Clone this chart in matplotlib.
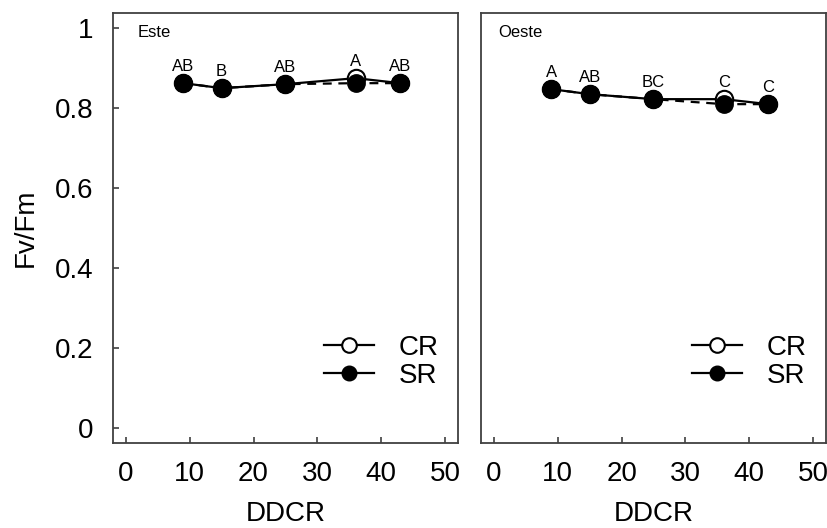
import matplotlib
matplotlib.use("Agg")
import matplotlib.pyplot as plt
from matplotlib.lines import Line2D

plt.rcParams['font.family'] = ['Liberation Sans', 'DejaVu Sans']

ddcr = [9, 15, 25, 36, 43]
este_cr = [0.8625, 0.85, 0.86, 0.875, 0.8625]
este_sr = [0.8625, 0.85, 0.86, 0.8625, 0.8625]
este_letters = ["AB", "B", "AB", "A", "AB"]
oeste_cr = [0.8475, 0.835, 0.8225, 0.8225, 0.81]
oeste_sr = [0.8475, 0.835, 0.8225, 0.81, 0.81]
oeste_letters = ["A", "AB", "BC", "C", "C"]
panels = ["Este", "Oeste"]
xticks = [0, 10, 20, 30, 40, 50]
yticks = [0, 0.2, 0.4, 0.6, 0.8, 1]
ytick_labels = ["0", "0.2", "0.4", "0.6", "0.8", "1"]

fig = plt.figure(figsize=(8.28, 5.28), dpi=100)
ax1 = fig.add_axes([0.1365, 0.161, 0.4165, 0.814])
ax2 = fig.add_axes([0.581, 0.161, 0.4165, 0.814])

data = [(este_cr, este_sr, este_letters), (oeste_cr, oeste_sr, oeste_letters)]
name_pos = [(0.072, 0.944), (0.049, 0.944)]
spc = '#404040'
FS = 20
for i, (ax, (cr, sr, letters), name) in enumerate(zip([ax1, ax2], data, panels)):
    ax.plot(ddcr, sr, color='black', lw=1.6, ls=(0, (4, 3)), marker='o', ms=12.5,
            mfc='black', mec='black', zorder=2)
    ax.plot(ddcr, cr, color='black', lw=1.6, ls='-', marker='o', ms=12.5,
            mfc='white', mec='black', mew=1.5, zorder=1)
    for x, c, s, lab in zip(ddcr, cr, sr, letters):
        top = max(c, s)
        ax.annotate(lab, (x, top), xytext=(0, 9), textcoords='offset points',
                    ha='center', va='baseline', fontsize=12)
    ax.set_xlim(-2, 52)
    ax.set_ylim(-0.0375, 1.0375)
    ax.set_xticks(xticks)
    ax.set_yticks(yticks)
    ax.tick_params(direction='in', length=4, width=1.2, color=spc, labelsize=FS)
    ax.tick_params(axis='x', pad=13)
    ax.tick_params(axis='y', pad=14)
    ax.set_xticklabels([str(t) for t in xticks])
    for sp in ax.spines.values():
        sp.set_color(spc)
        sp.set_linewidth(1.3)
    ax.set_xlabel("DDCR", fontsize=FS, labelpad=10)
    ax.text(name_pos[i][0], name_pos[i][1], name, transform=ax.transAxes,
            fontsize=12, va='baseline', ha='left')
    handles = [Line2D([], [], color='black', lw=1.6, marker='o', ms=10.5, mfc='white', mec='black', mew=1.5),
               Line2D([], [], color='black', lw=1.6, marker='o', ms=10.5, mfc='black', mec='black')]
    ax.legend(handles, ["CR", "SR"], loc='lower right', bbox_to_anchor=(0.945, 0.126),
              frameon=False, fontsize=FS, handlelength=1.8, handletextpad=0.9,
              labelspacing=0.08, borderpad=0, borderaxespad=0)

ax1.set_yticklabels(ytick_labels)
ax1.set_ylabel("Fv/Fm", fontsize=FS, labelpad=12)
ax2.tick_params(axis='y', left=False, labelleft=False)

fig.savefig("out.png", dpi=100)
